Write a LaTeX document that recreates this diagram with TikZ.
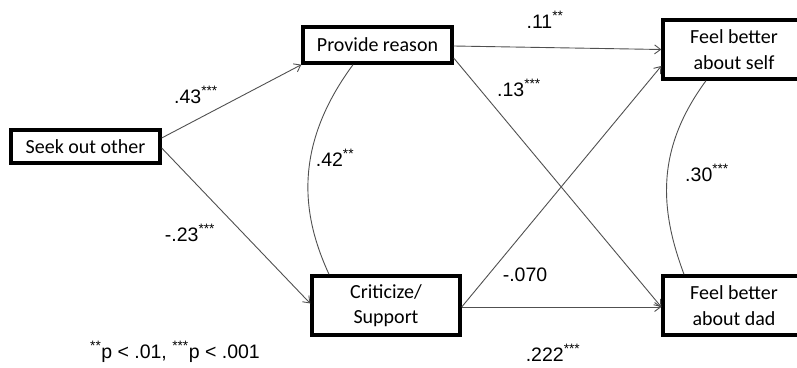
\documentclass[tikz,border=0pt]{standalone}
\usepackage{fontspec}
\setmainfont{Liberation Sans}
\newfontfamily\boxfont{Carlito}
\usetikzlibrary{arrows.meta}
\definecolor{linegray}{HTML}{505050}
\newcommand{\sig}[1]{\textsuperscript{#1}}
\tikzset{
  varbox/.style={draw=black, line width=3.4pt, fill=white, align=center, inner sep=0pt,
    font=\boxfont\fontsize{20}{25.5}\selectfont},
  path/.style={draw=linegray, line width=0.9pt, -{Straight Barb[length=6pt,width=9pt,line width=0.9pt]}},
  corr/.style={draw=linegray, line width=0.9pt},
  coef/.style={font=\fontsize{19.5}{22}\selectfont, inner sep=0pt}
}
\begin{document}
\begin{tikzpicture}[x=1pt,y=-1pt]
\useasboundingbox (0,0) rectangle (797,367);
\clip (0,0) rectangle (797,367);
% boxes
\node[varbox, minimum width=149pt, minimum height=33pt] (seek) at (85.5,146.5) {Seek out other};
\node[varbox, minimum width=149pt, minimum height=36pt] (prov) at (377.5,45) {Provide reason};
\node[varbox, minimum width=148pt, minimum height=59pt] (crit) at (386,305.5) {Criticize/\\Support};
\node[varbox, minimum width=142pt, minimum height=59pt] (self) at (734,49.5) {Feel better\\about self};
\node[varbox, minimum width=142pt, minimum height=59pt] (dad) at (734,305.5) {Feel better\\about dad};
% paths
\draw[path] ([yshift=8.5pt]seek.east) -- (prov.south west);
\draw[path] ([yshift=-1.5pt]seek.east) -- ([yshift=2pt]crit.west);
\draw[path] ([yshift=-1pt]prov.east) -- (self.west);
\draw[path] ([yshift=-13pt]prov.east) -- ([yshift=-1.5pt]dad.west);
\draw[path] ([yshift=-1.5pt]crit.east) -- ([yshift=-16.5pt]self.west);
\draw[path] ([yshift=-1.5pt]crit.east) -- ([yshift=-1.5pt]dad.west);
% correlations
\draw[corr] ([xshift=-24.5pt]prov.south) .. controls (290,150) and (304,220) .. ([xshift=-57pt]crit.north);
\draw[corr] ([xshift=-28pt]self.south) .. controls (655,150) and (660,210) .. ([xshift=-50pt]dad.north);
% coefficients
\node[coef] (c43) at (196,95) {.43\sig{***}};
\node[coef] (c23) at (190,233) {-.23\sig{***}};
\node[coef] (c42) at (335,158) {.42\sig{**}};
\node[coef] (c11) at (545,20) {.11\sig{**}};
\node[coef] (c13) at (519,88) {.13\sig{***}};
\node[coef] (c070) at (525,275) {-.070};
\node[coef] (c222) at (553,353) {.222\sig{***}};
\node[coef] (c30) at (707,173) {.30\sig{***}};
\node[coef] (note) at (175,352) {\sig{**}p < .01, \sig{***}p < .001};
\end{tikzpicture}
\end{document}
